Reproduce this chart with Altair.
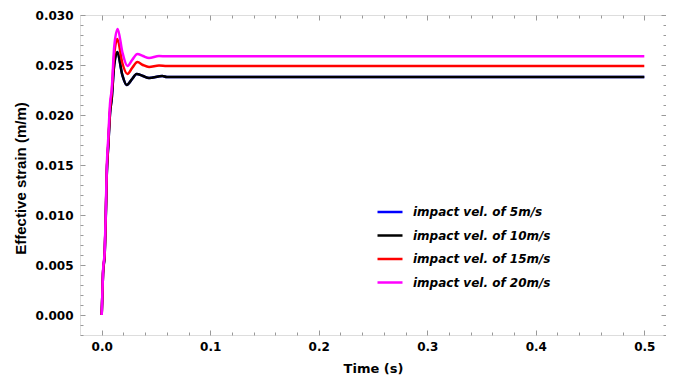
import altair as alt
import pandas as pd

series_names = ["impact vel. of 5m/s", "impact vel. of 10m/s",
                "impact vel. of 15m/s", "impact vel. of 20m/s"]
series_colors = ["#0000ff", "#000000", "#ff0000", "#ff00ff"]

t_black = [0, 0.0012, 0.0028, 0.0037, 0.0046, 0.0061, 0.0077, 0.0092, 0.0115, 0.0144,
           0.019, 0.023, 0.028, 0.0322, 0.038, 0.0436, 0.0559, 0.06, 0.1, 0.2, 0.3, 0.4, 0.5]
y_blue = [0, 0.0041, 0.0062, 0.0095, 0.0138, 0.0170, 0.0202, 0.0216, 0.0250, 0.0263,
          0.0240, 0.0230, 0.0236, 0.0241, 0.0239, 0.0237, 0.0239, 0.0238, 0.0238, 0.0238, 0.0238, 0.0238, 0.0238]
y_black = [0, 0.0041, 0.0062, 0.0095, 0.0138, 0.0170, 0.0202, 0.0216, 0.0250, 0.0263,
           0.0240, 0.0230, 0.0236, 0.0241, 0.0239, 0.0237, 0.0239, 0.0238, 0.0238, 0.0238, 0.0238, 0.0238, 0.0238]
t_red = [0, 0.0012, 0.0028, 0.0037, 0.0046, 0.0061, 0.0077, 0.0092, 0.0115, 0.0144,
         0.019, 0.0237, 0.028, 0.0329, 0.038, 0.0436, 0.0528, 0.06, 0.1, 0.2, 0.3, 0.4, 0.5]
y_red = [0, 0.0042, 0.0063, 0.0097, 0.0141, 0.0173, 0.0206, 0.0222, 0.0260, 0.0276,
         0.0252, 0.0241, 0.0247, 0.0253, 0.0250, 0.0248, 0.02495, 0.0249, 0.0249, 0.0249, 0.0249, 0.0249, 0.0249]
t_mag = [0, 0.0012, 0.0028, 0.0037, 0.0046, 0.0061, 0.0077, 0.0092, 0.0115, 0.0147,
         0.019, 0.0237, 0.028, 0.0329, 0.038, 0.0436, 0.0528, 0.06, 0.1, 0.2, 0.3, 0.4, 0.5]
y_mag = [0, 0.0043, 0.0065, 0.0100, 0.0145, 0.0178, 0.0212, 0.0225, 0.0268, 0.0286,
         0.0263, 0.0249, 0.0255, 0.0261, 0.0259, 0.0257, 0.0259, 0.02587, 0.02587, 0.02587, 0.02587, 0.02587, 0.02587]

rows = []
for order, (name, ts, ys) in enumerate(zip(series_names,
                                           [t_black, t_black, t_red, t_mag],
                                           [y_blue, y_black, y_red, y_mag])):
    for t, y in zip(ts, ys):
        rows.append({"series": name, "t": t, "y": y, "o": order})
df = pd.DataFrame(rows)

x_ticks = [round(i * 0.02, 2) for i in range(0, 26)]
y_ticks = [round(-0.002 + i * 0.001, 3) for i in range(0, 33)]

WFONT = "DejaVu Sans"
NFONT = "Liberation Sans"
x_major = "abs(datum.value*10 - round(datum.value*10)) < 1e-6"
y_major = "abs(datum.value*200 - round(datum.value*200)) < 1e-6"

def tsize(test):
    return {"condition": {"test": test, "value": 5}, "value": 3}

xs = alt.Scale(domain=[-0.02, 0.52], nice=False, zero=False)
ys = alt.Scale(domain=[-0.002, 0.030], nice=False, zero=False)
W, H = 586, 320

color = alt.Color("series:N", sort=series_names,
                  scale=alt.Scale(domain=series_names, range=series_colors),
                  legend=alt.Legend(title=None, orient="none", legendX=296, legendY=183,
                                    symbolType="stroke", symbolSize=625, symbolStrokeWidth=2.5,
                                    labelFont=WFONT, labelFontWeight="bold", labelFontStyle="italic",
                                    labelFontSize=12, labelColor="#000", labelOffset=9,
                                    rowPadding=3.5, labelLimit=300))

# main layer: labels + titles (no ticks)
lines = alt.Chart(df).mark_line(strokeWidth=2.5, interpolate="monotone", clip=True).encode(
    x=alt.X("t:Q", scale=xs, title="Time  (s)",
            axis=alt.Axis(values=x_ticks, labelExpr=x_major + " ? format(datum.value, '.1f') : ''",
                          grid=False, domain=False, ticks=False,
                          labelFont=WFONT, labelFontWeight="bold", labelFontSize=12, labelColor="#000",
                          labelPadding=6, titleFont=WFONT, titleFontWeight="bold", titleFontSize=13,
                          titleColor="#000", titlePadding=10)),
    y=alt.Y("y:Q", scale=ys, title="Effective strain (m/m)",
            axis=alt.Axis(values=y_ticks, labelExpr=y_major + " ? format(datum.value, '.3f') : ''",
                          grid=False, domain=False, ticks=False,
                          labelFont=WFONT, labelFontWeight="bold", labelFontSize=12, labelColor="#000",
                          labelPadding=7, titleFont=NFONT, titleFontWeight="bold", titleFontSize=15,
                          titleColor="#000", titlePadding=7, titleY=163)),
    color=color,
    order=alt.Order("o:Q"),
    detail="series:N",
)

# inward ticks on bottom and left: flipped-orient axes pushed across the plot
ticks_bl = alt.Chart(df).mark_line(opacity=0).encode(
    x=alt.X("t:Q", scale=xs,
            axis=alt.Axis(orient="top", offset=-H, values=x_ticks, labels=False, title=None, grid=False,
                          domain=False, tickColor="#999", tickSize=tsize(x_major))),
    y=alt.Y("y:Q", scale=ys,
            axis=alt.Axis(orient="right", offset=-W, values=y_ticks, labels=False, title=None, grid=False,
                          domain=False, tickColor="#999", tickSize=tsize(y_major))),
    detail="series:N",
)

# inward ticks on top and right
ticks_tr = alt.Chart(df).mark_line(opacity=0).encode(
    x=alt.X("t:Q", scale=xs,
            axis=alt.Axis(orient="bottom", offset=-H, values=x_ticks, labels=False, title=None, grid=False,
                          domain=False, tickColor="#999", tickSize=tsize(x_major))),
    y=alt.Y("y:Q", scale=ys,
            axis=alt.Axis(orient="left", offset=-W, values=y_ticks, labels=False, title=None, grid=False,
                          domain=False, tickColor="#999", tickSize=tsize(y_major))),
    detail="series:N",
)

chart = alt.layer(lines, ticks_bl, ticks_tr).resolve_axis(x="independent", y="independent").properties(
    width=W, height=H,
    autosize=alt.AutoSizeParams(type="none"),
    padding={"left": 72, "top": 7, "right": 0, "bottom": 41},
).configure_view(stroke="#999", strokeWidth=1).configure(background="white")

chart.save("out.html", embed_options={"renderer": "svg", "actions": False})
